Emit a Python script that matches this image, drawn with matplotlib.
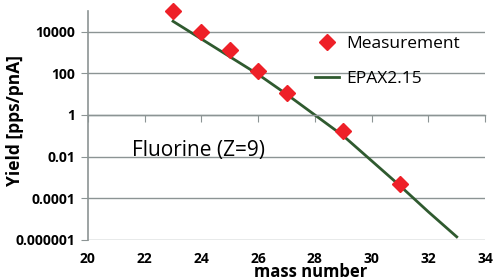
import numpy as np
import matplotlib
matplotlib.use("Agg")
import matplotlib.pyplot as plt

# measured yields (pps/pnA) vs mass number
meas_A = [23, 24, 25, 26, 27, 29, 31]
meas_Y = [1.0e5, 1.0e4, 1.35e3, 125, 11, 0.17, 5e-4]

# EPAX2.15 prediction
epax_A = [23, 24, 25, 26, 27, 28, 29, 30, 31, 32, 33]
epax_logY = [4.5, 3.65, 2.8, 1.95, 1.0, 0.0, -1.0, -2.2, -3.4, -4.65, -5.85]

xticks = [20, 22, 24, 26, 28, 30, 32, 34]
yticks = [1e-6, 1e-4, 1e-2, 1, 1e2, 1e4]
ytick_labels = ["0.000001", "0.0001", "0.01", "1", "100", "10000"]

plt.rcParams["font.family"] = ["Open Sans", "DejaVu Sans"]
grey = "#8c9494"

fig = plt.figure(figsize=(4.94, 2.79), dpi=100)
ax = fig.add_axes([0.178, 0.140, 0.804, 0.821])
ax.set_yscale("log")
ax.set_xlim(20, 34)
ax.set_ylim(1e-6, 1e5)

for y in yticks:
    ax.axhline(y, color=grey, lw=1.0, zorder=0)

ax.plot(epax_A, 10.0 ** np.array(epax_logY), color="#2f5a2f", lw=2.0,
        label="EPAX2.15", zorder=2)
ax.plot(meas_A, meas_Y, ls="none", marker="D", ms=8, color="#ee2028",
        label="Measurement", zorder=3, clip_on=False)

for s in ["top", "right"]:
    ax.spines[s].set_visible(False)
ax.spines["left"].set_color(grey)
ax.spines["left"].set_linewidth(1.2)
# Excel-style: horizontal axis crosses at y = 1, labels stay at the bottom
ax.spines["bottom"].set_position(("data", 1))
ax.spines["bottom"].set_color(grey)
ax.spines["bottom"].set_linewidth(1.0)

ax.set_yticks(yticks)
ax.set_yticklabels(ytick_labels, fontweight="bold", fontsize=10)
ax.yaxis.set_minor_locator(matplotlib.ticker.NullLocator())
ax.tick_params(axis="y", length=5, color=grey, direction="out", pad=4)

ax.set_xticks(xticks)
ax.tick_params(axis="x", length=5, color=grey, direction="out",
               labelbottom=False)

sec = ax.secondary_xaxis("bottom")
sec.set_xticks(xticks)
sec.set_xticklabels([str(t) for t in xticks], fontweight="bold", fontsize=10)
sec.tick_params(length=0, pad=9)
sec.spines["bottom"].set_visible(False)

# axis title overlaps the tick labels, as in the original
fig.text(311 / 494, 1 - 272 / 279, "mass number", fontweight="bold",
         fontsize=12, ha="center", va="center")

ax.set_ylabel("Yield [pps/pnA]", fontweight="bold", fontsize=12.5)
ax.yaxis.set_label_coords(-0.16, 0.52)

ax.text(0.11, 0.39, "Fluorine (Z=9)", transform=ax.transAxes,
        fontsize=15, va="center", ha="left")

h, l = ax.get_legend_handles_labels()
ax.legend(h[::-1], l[::-1], loc="upper right", bbox_to_anchor=(0.975, 0.96),
          frameon=False, fontsize=12.5, handlelength=1.4, labelspacing=1.1,
          handletextpad=0.4)

fig.savefig("out.png", dpi=100)
